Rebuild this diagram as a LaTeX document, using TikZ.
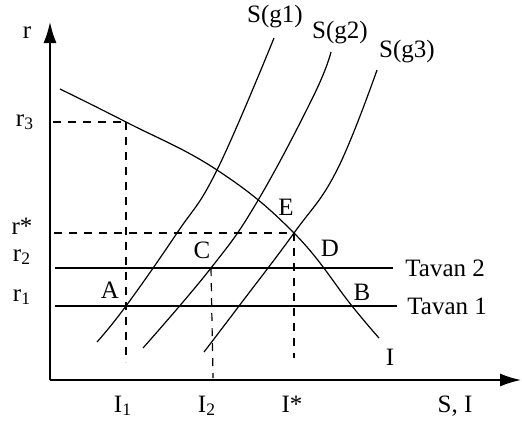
\documentclass[tikz,border=0pt]{standalone}
\usepackage{fontspec}
\setmainfont{Liberation Serif}
\usetikzlibrary{arrows.meta}

\begin{document}
\begin{tikzpicture}[x=0.5pt, y=-0.5pt,
        lbl/.style = {inner sep=0pt, font=\fontsize{12.5}{15}\selectfont},
        axis/.style = {line width=0.8pt, -{Latex[length=10.5pt,width=6.5pt]}},
        curve/.style = {line width=0.6pt},
        guide/.style = {line width=0.6pt, dash pattern=on 4pt off 3.5pt}]
        \useasboundingbox (0,0) rectangle (522,425);

        \coordinate (O) at (50,380);
        \coordinate (ytop) at (50,22);
        \coordinate (xend) at (521,380);

        \coordinate (d0) at (60,89);
        \coordinate (F) at (126,122);
        \coordinate (d3) at (217,170);
        \coordinate (E) at (294,233);
        \coordinate (B) at (352,306);
        \coordinate (d8) at (379,338);

        \coordinate (a0) at (97,342);
        \coordinate (A) at (126,306);
        \coordinate (a3) at (177,233);
        \coordinate (a4) at (217,170);
        \coordinate (a6) at (274,38);

        \coordinate (b0) at (143,348);
        \coordinate (C) at (211,268);
        \coordinate (b4) at (257,202);
        \coordinate (b6) at (313,97);
        \coordinate (b7) at (331,52);

        \coordinate (c0) at (204,352);
        \coordinate (c2) at (239,306);
        \coordinate (c5) at (337,170);
        \coordinate (c7) at (377,70);

        \coordinate (r3s) at (53,122);
        \coordinate (rss) at (54,233);
        \coordinate (I1e) at (126,362);
        \coordinate (I2e) at (213,378);
        \coordinate (Ise) at (294,358);
        \coordinate (t2s) at (55,268);
        \coordinate (t1s) at (55,306);

        \node[lbl] (r) at (27,33) {r};
        \node[lbl] (r3) at (25,122) {r\textsubscript{3}};
        \node[lbl] (rs) at (22,226) {r*};
        \node[lbl] (r2) at (22,257) {r\textsubscript{2}};
        \node[lbl] (r1) at (22,297) {r\textsubscript{1}};
        \node[lbl] (lA) at (110,290) {A};
        \node[lbl] (lC) at (202,250) {C};
        \node[lbl] (lE) at (286,207) {E};
        \node[lbl] (lD) at (330,248) {D};
        \node[lbl] (lB) at (362,292) {B};
        \node[lbl] (lI) at (390,357) {I};
        \node[lbl, anchor=west] (tav2) at (405,268) {Tavan 2};
        \node[lbl, anchor=west] (tav1) at (407,306) {Tavan 1};
        \node[lbl] (g1) at (275,17) {S(g1)};
        \node[lbl] (g2) at (340,33) {S(g2)};
        \node[lbl] (g3) at (407,52) {S(g3)};
        \node[lbl, anchor=base] (I1) at (123,412) {I\textsubscript{1}};
        \node[lbl, anchor=base] (I2) at (207,412) {I\textsubscript{2}};
        \node[lbl, anchor=base] (Is) at (292,412) {I*};
        \node[lbl, anchor=base] (SI) at (455,412) {S, I};

        \draw[axis] (O) -- (ytop);
        \draw[axis] (O) -- (xend);

        \draw[curve] (t2s) -- ([xshift=-6pt]tav2.west);
        \draw[curve] (t1s) -- ([xshift=-5pt]tav1.west);

        \draw[curve] plot[smooth, tension=0.7] coordinates {(d0) (F) (d3) (E) (B) (d8)};
        \draw[curve] plot[smooth, tension=0.7] coordinates {(a0) (A) (a3) (a4) (a6)};
        \draw[curve] plot[smooth, tension=0.7] coordinates {(b0) (C) (b4) (b6) (b7)};
        \draw[curve] plot[smooth, tension=0.7] coordinates {(c0) (c2) (E) (c5) (c7)};

        \draw[guide] (r3s) -- (F);
        \draw[guide] (F) -- (I1e);
        \draw[guide] (rss) -- (E);
        \draw[guide] (E) -- (Ise);
        \draw[guide] (C) -- (I2e);
\end{tikzpicture}
\end{document}
